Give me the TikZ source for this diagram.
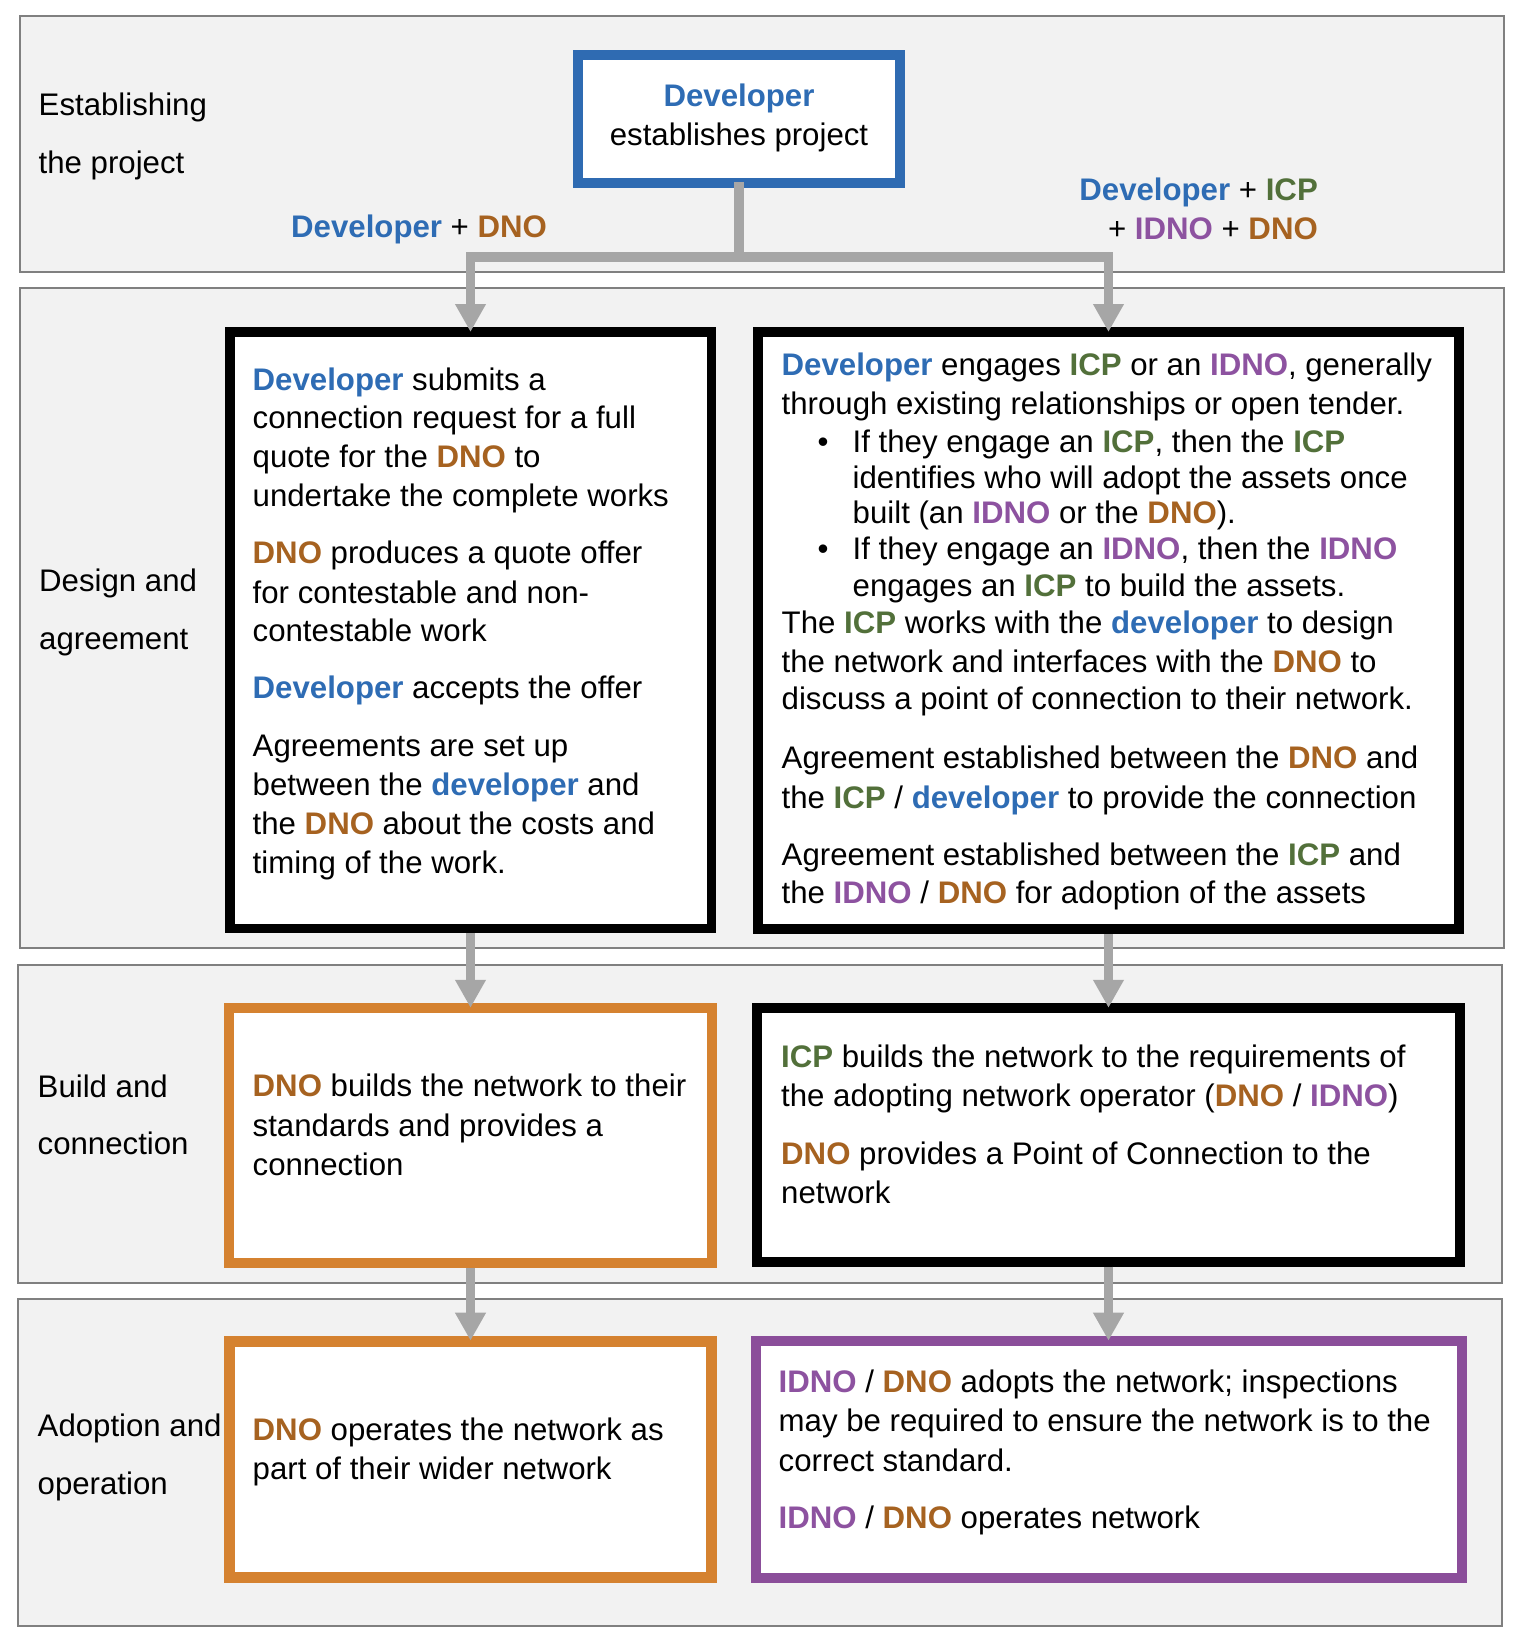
\documentclass[tikz,border=0pt]{standalone}
\usepackage{fontspec}
\setmainfont{Liberation Sans}
\usetikzlibrary{arrows.meta}
\definecolor{devblue}{HTML}{2E6CB4}
\definecolor{dnobrown}{HTML}{A66220}
\definecolor{icpgreen}{HTML}{52703A}
\definecolor{idnopurple}{HTML}{8D52A0}
\definecolor{boxorange}{HTML}{D58230}
\definecolor{boxpurple}{HTML}{8B4E9A}
\definecolor{boxblue}{HTML}{2F6BB2}
\definecolor{conngray}{HTML}{A6A6A6}
\definecolor{panelfill}{HTML}{F2F2F2}
\definecolor{panelline}{HTML}{808080}
\newcommand{\kDev}{\textbf{\textcolor{devblue}{Developer}}}
\newcommand{\kdev}{\textbf{\textcolor{devblue}{developer}}}
\newcommand{\kDNO}{\textbf{\textcolor{dnobrown}{DNO}}}
\newcommand{\kICP}{\textbf{\textcolor{icpgreen}{ICP}}}
\newcommand{\kIDNO}{\textbf{\textcolor{idnopurple}{IDNO}}}
\begin{document}
\begin{tikzpicture}[x=1pt,y=-1pt,
  panel/.style={draw=panelline, fill=panelfill, line width=2pt},
  bx/.style={draw=#1, fill=white, inner sep=0pt, line width=10pt},
  txt/.style={anchor=base west, inner sep=0pt, font=\fontsize{31.2}{37}\selectfont},
  ctxt/.style={anchor=base, inner sep=0pt, font=\fontsize{31.2}{37}\selectfont},
  rtxt/.style={anchor=base east, inner sep=0pt, font=\fontsize{31.2}{37}\selectfont},
  conn/.style={draw=conngray, line width=9.5pt, -{Triangle[length=28pt,width=29pt]}},
  connline/.style={draw=conngray, line width=9.5pt}
]
\fill[white] (0,0) rectangle (1514,1644);
\useasboundingbox (0,0) rectangle (1514,1644);

% panels
\draw[panel] (19.5,16) rectangle (1504,272);
\draw[panel] (19.5,288) rectangle (1504,947.5);
\draw[panel] (18,964.5) rectangle (1502,1283);
\draw[panel] (18,1299) rectangle (1502,1626);

% panel labels
\node[txt] (p1a) at (38.5,115) {Establishing};
\node[txt] (p1b) at (38.5,173) {the project};
\node[txt] (p2a) at (39,591.6) {Design and};
\node[txt] (p2b) at (39,649.8) {agreement};
\node[txt] (p3a) at (37.5,1097) {Build and};
\node[txt] (p3b) at (37.5,1154) {connection};
\node[txt] (p4a) at (37.5,1436.7) {Adoption and};
\node[txt] (p4b) at (37.5,1494.5) {operation};

% boxes
\node[bx=boxblue, minimum width=322pt, minimum height=128pt] (dev) at (739,119) {};
\node[bx=black, line width=9.5pt, minimum width=481.5pt, minimum height=596.5pt] (L2) at (470.5,630) {};
\node[bx=black, line width=9.7pt, minimum width=700.8pt, minimum height=597.3pt] (R2) at (1108.5,630.5) {};
\node[bx=boxorange, minimum width=482.5pt, minimum height=254.4pt] (L3) at (470.5,1135.5) {};
\node[bx=black, minimum width=703.5pt, minimum height=253.4pt] (R3) at (1108.5,1135) {};
\node[bx=boxorange, line width=10.5pt, minimum width=482pt, minimum height=236.2pt] (L4) at (470.5,1459.35) {};
\node[bx=boxpurple, minimum width=706pt, minimum height=236.7pt] (R4) at (1108.5,1459.35) {};

% top texts
\node[ctxt] (devt1) at (739,106.7) {\kDev};
\node[ctxt] (devt2) at (739,145) {establishes project};
\node[txt] (labL) at (291,237) {\kDev{} + \kDNO};
\node[rtxt] (labR1) at (1318,200) {\kDev{} + \kICP};
\node[rtxt] (labR2) at (1318,239.5) {+ \kIDNO{} + \kDNO};

% left design box
\node[txt] (l1) at (252.5,390) {\kDev{} submits a};
\node[txt] (l2) at (252.5,428.3) {connection request for a full};
\node[txt] (l3) at (252.5,467.3) {quote for the \kDNO{} to};
\node[txt] (l4) at (252.5,506.4) {undertake the complete works};
\node[txt] (l5) at (252.5,563.8) {\kDNO{} produces a quote offer};
\node[txt] (l6) at (252.5,603.2) {for contestable and non-};
\node[txt] (l7) at (252.5,641.5) {contestable work};
\node[txt] (l8) at (252.5,698.9) {\kDev{} accepts the offer};
\node[txt] (l9) at (252.5,756.3) {Agreements are set up};
\node[txt] (l10) at (252.5,795.7) {between the \kdev{} and};
\node[txt] (l11) at (252.5,834) {the \kDNO{} about the costs and};
\node[txt] (l12) at (252.5,873) {timing of the work.};

% right design box
\node[txt] (r1) at (781.5,375.4) {\kDev{} engages \kICP{} or an \kIDNO, generally};
\node[txt] (r2) at (781.5,414) {through existing relationships or open tender.};
\node[txt] (b1) at (817.5,452.5) {•};
\node[txt] (r3) at (852.5,452.5) {If they engage an \kICP, then the \kICP};
\node[txt] (r4) at (852.5,488) {identifies who will adopt the assets once};
\node[txt] (r5) at (852.5,523.6) {built (an \kIDNO{} or the \kDNO).};
\node[txt] (b2) at (817.5,559.2) {•};
\node[txt] (r6) at (852.5,559.2) {If they engage an \kIDNO, then the \kIDNO};
\node[txt] (r7) at (852.5,596.8) {engages an \kICP{} to build the assets.};
\node[txt] (r8) at (781.5,633.6) {The \kICP{} works with the \kdev{} to design};
\node[txt] (r9) at (781.5,672) {the network and interfaces with the \kDNO{} to};
\node[txt] (r10) at (781.5,709.5) {discuss a point of connection to their network.};
\node[txt] (r11) at (781.5,768.8) {Agreement established between the \kDNO{} and};
\node[txt] (r12) at (781.5,808.3) {the \kICP{} / \kdev{} to provide the connection};
\node[txt] (r13) at (781.5,865.7) {Agreement established between the \kICP{} and};
\node[txt] (r14) at (781.5,903.2) {the \kIDNO{} / \kDNO{} for adoption of the assets};

% build row
\node[txt] (m1) at (252.5,1096) {\kDNO{} builds the network to their};
\node[txt] (m2) at (252.5,1136) {standards and provides a};
\node[txt] (m3) at (252.5,1175) {connection};
\node[txt] (n1) at (781,1067.7) {\kICP{} builds the network to the requirements of};
\node[txt] (n2) at (781,1106.7) {the adopting network operator (\kDNO{} / \kIDNO)};
\node[txt] (n3) at (781,1164.3) {\kDNO{} provides a Point of Connection to the};
\node[txt] (n4) at (781,1203.3) {network};

% adoption row
\node[txt] (o1) at (252.5,1440) {\kDNO{} operates the network as};
\node[txt] (o2) at (252.5,1479) {part of their wider network};
\node[txt] (q1) at (778.5,1392.7) {\kIDNO{} / \kDNO{} adopts the network; inspections};
\node[txt] (q2) at (778.5,1431.7) {may be required to ensure the network is to the};
\node[txt] (q3) at (778.5,1471) {correct standard.};
\node[txt] (q4) at (778.5,1528.3) {\kIDNO{} / \kDNO{} operates network};

% connectors
\coordinate (split) at (739,257);
\draw[connline] ([yshift=6pt]dev.south) -- (split);
\draw[conn, shorten >=-5pt] (split) -| (L2.north);
\draw[conn, shorten >=-5pt] (split) -| (R2.north);
\draw[conn, shorten >=-4.5pt] (L2.south) -- (L3.north);
\draw[conn, shorten >=-4.5pt] (R2.south) -- (R3.north);
\draw[conn, shorten >=-4.7pt] (L3.south) -- (L4.north);
\draw[conn, shorten >=-4.7pt] (R3.south) -- (R4.north);
\end{tikzpicture}
\end{document}
